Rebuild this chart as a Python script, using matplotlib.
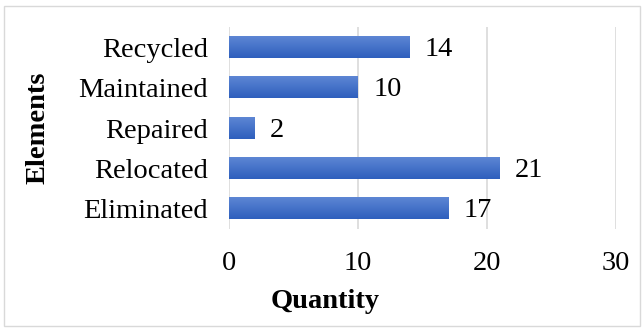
import matplotlib.pyplot as plt
import numpy as np
from matplotlib.patches import Rectangle
from matplotlib.colors import LinearSegmentedColormap

categories = ['Eliminated', 'Relocated', 'Repaired', 'Maintained', 'Recycled']
quantities = [17, 21, 2, 10, 14]
x_ticks = [0, 10, 20, 30]

plt.rcParams['font.family'] = ['Liberation Serif', 'DejaVu Serif']
fs = 20.5

fig = plt.figure(figsize=(6.42, 3.30), dpi=100)
ax = fig.add_axes([229 / 642, 1 - 229 / 330, (616 - 229) / 642, (229 - 27) / 330])

# Figure border
fig.patches.append(Rectangle((4 / 642, 4 / 330), 636 / 642, 320 / 330, transform=fig.transFigure,
                             fill=False, edgecolor='#d9d9d9', linewidth=1))

bar_height = 0.52
positions = np.arange(len(categories))
bars = ax.barh(positions, quantities, bar_height, color='none', zorder=2)

# Vertical gradient in each bar (lighter at top)
grad = np.linspace(0, 1, 64).reshape(-1, 1)
cmap = LinearSegmentedColormap.from_list('bar', ['#2e5fbd', '#5d86d4'])
for b in bars:
    x0, y0, w, h = b.get_x(), b.get_y(), b.get_width(), b.get_height()
    ax.imshow(grad, cmap=cmap, extent=(x0, x0 + w, y0, y0 + h), origin='lower',
              aspect='auto', zorder=2)

for pos, q in zip(positions, quantities):
    ax.annotate(str(q), (q, pos), xytext=(11, -1.5), textcoords='offset points',
                va='center', ha='left', fontsize=fs)

ax.set_xlim(0, 30)
ax.set_ylim(-0.5, len(categories) - 0.5)
ax.set_xticks(x_ticks)
ax.set_yticks(positions)
ax.set_yticklabels(categories)
ax.tick_params(axis='both', length=0, labelsize=fs)
ax.tick_params(axis='x', pad=16)
ax.tick_params(axis='y', pad=15)

# Axis titles (placed like the original, not centred on the plot area)
fig.text(325 / 642, 1 - 301 / 330, 'Quantity', fontweight='bold', fontsize=fs,
         ha='center', va='center')
fig.text(38 / 642, 1 - 128 / 330, 'Elements', fontweight='bold', fontsize=fs,
         ha='center', va='center', rotation=90)

for s in ax.spines.values():
    s.set_visible(False)
ax.grid(axis='x', color='#d9d9d9', linewidth=1.2, zorder=0)
ax.set_axisbelow(True)

fig.savefig('out.png', dpi=100)
